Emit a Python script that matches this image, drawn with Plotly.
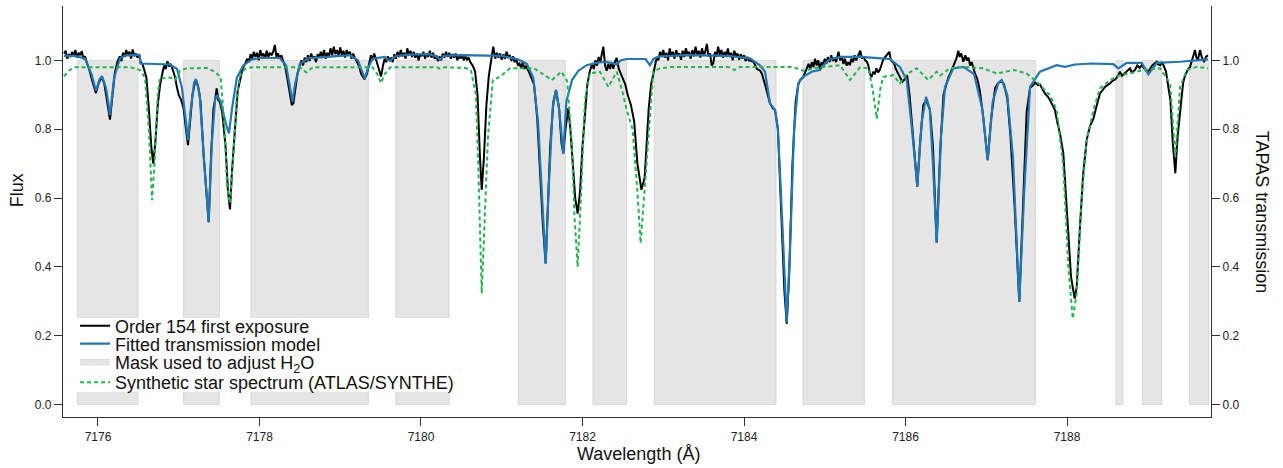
import plotly.graph_objects as go

# ---------------- data ----------------
mask_start = [7175.744, 7177.061, 7177.895, 7179.690, 7181.205, 7182.130,
              7182.889, 7184.731, 7185.841, 7188.607, 7188.933, 7189.515]
mask_end = [7176.495, 7177.502, 7179.348, 7180.347, 7181.787, 7182.547,
            7184.396, 7185.490, 7187.607, 7188.693, 7189.173, 7189.755]

obs_points = [
    (7175.58, 1.020), (7175.60, 1.028), (7175.62, 1.005), (7175.64, 1.018), (7175.66, 1.010),
    (7175.68, 1.025), (7175.70, 1.012), (7175.72, 1.030), (7175.74, 1.008), (7175.76, 1.022),
    (7175.78, 1.015), (7175.80, 1.027), (7175.82, 1.004), (7175.84, 1.012), (7175.86, 0.995),
    (7175.89, 0.975), (7175.93, 0.940), (7175.975, 0.905), (7176.01, 0.935), (7176.05, 0.952),
    (7176.08, 0.930), (7176.11, 0.880), (7176.149, 0.828), (7176.18, 0.900), (7176.21, 0.965),
    (7176.24, 0.995), (7176.27, 1.012), (7176.29, 0.998), (7176.31, 1.022), (7176.33, 1.010),
    (7176.35, 1.030), (7176.37, 1.015), (7176.39, 1.025), (7176.41, 1.005), (7176.43, 1.032),
    (7176.45, 1.012), (7176.47, 1.020), (7176.49, 1.008), (7176.51, 1.015), (7176.53, 0.995),
    (7176.55, 0.990), (7176.57, 0.975), (7176.60, 0.950), (7176.63, 0.860), (7176.66, 0.750),
    (7176.685, 0.700), (7176.71, 0.760), (7176.74, 0.870), (7176.77, 0.930), (7176.80, 0.965),
    (7176.82, 0.985), (7176.84, 0.975), (7176.86, 0.998), (7176.88, 0.982), (7176.90, 0.990),
    (7176.93, 0.970), (7176.95, 0.955), (7176.98, 0.920), (7177.00, 0.900), (7177.03, 0.885),
    (7177.06, 0.860), (7177.09, 0.800), (7177.115, 0.754), (7177.14, 0.820), (7177.17, 0.900),
    (7177.20, 0.935), (7177.214, 0.943), (7177.24, 0.925), (7177.27, 0.880), (7177.31, 0.720),
    (7177.371, 0.530), (7177.40, 0.720), (7177.43, 0.860), (7177.45, 0.885), (7177.47, 0.919),
    (7177.49, 0.885), (7177.51, 0.880), (7177.54, 0.846), (7177.58, 0.750), (7177.61, 0.620),
    (7177.635, 0.567), (7177.66, 0.680), (7177.70, 0.820), (7177.73, 0.910), (7177.76, 0.943),
    (7177.79, 0.975), (7177.82, 0.990), (7177.85, 1.005), (7177.87, 0.995), (7177.89, 1.018),
    (7177.91, 1.005), (7177.93, 1.025), (7177.95, 1.010), (7177.97, 1.022), (7177.99, 1.000),
    (7178.01, 1.030), (7178.03, 1.012), (7178.05, 1.020), (7178.07, 1.005), (7178.09, 1.028),
    (7178.11, 1.010), (7178.13, 1.022), (7178.15, 1.015), (7178.17, 1.025), (7178.19, 1.045),
    (7178.21, 1.010), (7178.23, 1.020), (7178.25, 1.005), (7178.27, 1.015), (7178.29, 1.000),
    (7178.32, 0.980), (7178.35, 0.940), (7178.38, 0.890), (7178.40, 0.870), (7178.42, 0.875),
    (7178.44, 0.910), (7178.47, 0.960), (7178.50, 0.985), (7178.52, 1.000), (7178.54, 0.985),
    (7178.56, 1.008), (7178.58, 0.995), (7178.60, 1.015), (7178.62, 0.998), (7178.64, 1.020),
    (7178.66, 1.005), (7178.68, 1.012), (7178.70, 0.995), (7178.72, 1.018), (7178.74, 1.008),
    (7178.76, 1.025), (7178.78, 1.010), (7178.80, 1.030), (7178.82, 1.005), (7178.84, 1.022),
    (7178.86, 1.012), (7178.88, 1.035), (7178.90, 1.015), (7178.92, 1.040), (7178.94, 1.018),
    (7178.96, 1.030), (7178.98, 1.012), (7179.00, 1.038), (7179.02, 1.015), (7179.04, 1.028),
    (7179.06, 1.008), (7179.08, 1.030), (7179.10, 1.018), (7179.12, 1.025), (7179.14, 1.005),
    (7179.16, 1.020), (7179.18, 1.008), (7179.20, 1.000), (7179.23, 0.985), (7179.26, 0.960),
    (7179.30, 0.945), (7179.33, 0.960), (7179.36, 0.990), (7179.38, 1.015), (7179.40, 1.000),
    (7179.42, 1.020), (7179.44, 1.005), (7179.46, 0.990), (7179.48, 0.975), (7179.505, 0.953),
    (7179.53, 0.985), (7179.55, 1.005), (7179.57, 0.995), (7179.59, 1.012), (7179.61, 1.000),
    (7179.63, 1.008), (7179.65, 0.995), (7179.67, 1.018), (7179.69, 1.005), (7179.71, 1.025),
    (7179.73, 1.010), (7179.75, 1.030), (7179.77, 1.012), (7179.79, 1.022), (7179.81, 1.005),
    (7179.83, 1.035), (7179.85, 1.015), (7179.87, 1.028), (7179.89, 1.010), (7179.91, 1.025),
    (7179.93, 1.008), (7179.95, 1.020), (7179.97, 1.000), (7179.99, 1.018), (7180.01, 1.012),
    (7180.03, 1.025), (7180.05, 1.005), (7180.07, 1.020), (7180.09, 1.010), (7180.11, 1.028),
    (7180.13, 1.008), (7180.15, 1.022), (7180.17, 1.005), (7180.19, 1.015), (7180.21, 0.998),
    (7180.23, 1.012), (7180.25, 1.000), (7180.27, 1.020), (7180.29, 1.008), (7180.31, 1.025),
    (7180.33, 1.010), (7180.35, 1.022), (7180.37, 1.005), (7180.39, 1.018), (7180.41, 1.008),
    (7180.43, 1.020), (7180.45, 1.000), (7180.47, 1.015), (7180.49, 1.005), (7180.51, 1.018),
    (7180.53, 1.000), (7180.55, 1.012), (7180.57, 1.002), (7180.59, 1.008), (7180.61, 0.995),
    (7180.64, 0.985), (7180.67, 0.968), (7180.70, 0.900), (7180.73, 0.720), (7180.752, 0.624),
    (7180.78, 0.720), (7180.81, 0.870), (7180.84, 0.955), (7180.87, 1.000), (7180.895, 1.040),
    (7180.92, 1.005), (7180.94, 1.022), (7180.96, 1.008), (7180.98, 1.020), (7181.00, 1.002),
    (7181.02, 1.018), (7181.04, 1.005), (7181.06, 1.025), (7181.08, 1.010), (7181.10, 1.015),
    (7181.12, 0.998), (7181.14, 1.012), (7181.16, 0.995), (7181.18, 1.005), (7181.20, 0.985),
    (7181.22, 0.990), (7181.24, 0.978), (7181.26, 0.995), (7181.28, 0.975), (7181.30, 0.985),
    (7181.33, 0.970), (7181.36, 0.955), (7181.40, 0.930), (7181.44, 0.830), (7181.48, 0.650),
    (7181.51, 0.520), (7181.544, 0.410), (7181.57, 0.550), (7181.60, 0.750), (7181.64, 0.880),
    (7181.672, 0.914), (7181.71, 0.860), (7181.74, 0.760), (7181.762, 0.730), (7181.79, 0.800),
    (7181.824, 0.861), (7181.85, 0.800), (7181.88, 0.700), (7181.91, 0.600), (7181.94, 0.555),
    (7181.97, 0.620), (7182.00, 0.750), (7182.03, 0.850), (7182.06, 0.930), (7182.09, 0.968),
    (7182.12, 0.990), (7182.14, 0.975), (7182.16, 1.000), (7182.18, 0.985), (7182.20, 1.010),
    (7182.22, 0.995), (7182.24, 1.025), (7182.258, 1.040), (7182.28, 0.985), (7182.30, 0.970),
    (7182.32, 0.990), (7182.34, 0.975), (7182.36, 0.995), (7182.381, 0.976), (7182.40, 0.995),
    (7182.424, 1.007), (7182.45, 0.975), (7182.48, 0.960), (7182.505, 0.945), (7182.53, 0.930),
    (7182.56, 0.900), (7182.60, 0.870), (7182.64, 0.823), (7182.68, 0.700), (7182.73, 0.624),
    (7182.77, 0.660), (7182.80, 0.780), (7182.82, 0.860), (7182.85, 0.930), (7182.88, 0.965),
    (7182.90, 0.995), (7182.92, 1.010), (7182.94, 1.000), (7182.96, 1.025), (7182.98, 1.010),
    (7183.00, 1.030), (7183.02, 1.008), (7183.04, 1.022), (7183.06, 1.000), (7183.08, 1.035),
    (7183.10, 1.012), (7183.12, 1.025), (7183.14, 1.005), (7183.16, 1.030), (7183.18, 1.015),
    (7183.20, 1.020), (7183.22, 1.002), (7183.24, 1.028), (7183.26, 1.010), (7183.28, 1.035),
    (7183.30, 1.018), (7183.32, 1.025), (7183.34, 1.005), (7183.36, 1.030), (7183.38, 1.012),
    (7183.40, 1.040), (7183.42, 1.015), (7183.44, 1.028), (7183.46, 1.008), (7183.48, 1.035),
    (7183.50, 1.015), (7183.52, 1.025), (7183.54, 1.048), (7183.56, 1.012), (7183.58, 1.020),
    (7183.60, 0.985), (7183.62, 0.992), (7183.64, 1.025), (7183.66, 1.010), (7183.68, 1.040),
    (7183.70, 1.015), (7183.72, 1.030), (7183.74, 1.008), (7183.76, 1.025), (7183.78, 1.012),
    (7183.80, 1.035), (7183.82, 1.010), (7183.84, 1.022), (7183.86, 1.000), (7183.88, 1.028),
    (7183.90, 1.012), (7183.92, 1.020), (7183.94, 1.002), (7183.96, 1.018), (7183.98, 1.005),
    (7184.00, 1.015), (7184.02, 0.998), (7184.04, 1.010), (7184.06, 1.000), (7184.08, 1.000),
    (7184.12, 0.995), (7184.16, 0.975), (7184.20, 0.970), (7184.22, 0.962), (7184.26, 0.930),
    (7184.30, 0.890), (7184.322, 0.875), (7184.36, 0.860), (7184.384, 0.856), (7184.42, 0.800),
    (7184.46, 0.580), (7184.50, 0.330), (7184.529, 0.235), (7184.56, 0.380), (7184.60, 0.700),
    (7184.64, 0.880), (7184.672, 0.930), (7184.70, 0.945), (7184.731, 0.950), (7184.76, 0.965),
    (7184.78, 0.975), (7184.80, 0.990), (7184.82, 0.975), (7184.84, 0.995), (7184.86, 0.980),
    (7184.88, 1.005), (7184.90, 0.985), (7184.92, 1.000), (7184.94, 0.975), (7184.96, 0.995),
    (7184.98, 0.985), (7185.00, 1.005), (7185.02, 0.990), (7185.04, 1.010), (7185.06, 0.995),
    (7185.08, 1.015), (7185.10, 0.998), (7185.12, 1.008), (7185.14, 0.995), (7185.17, 1.025),
    (7185.19, 1.000), (7185.21, 1.012), (7185.23, 0.990), (7185.25, 1.005), (7185.27, 0.985),
    (7185.29, 0.995), (7185.31, 0.986), (7185.33, 1.005), (7185.35, 0.995), (7185.37, 1.015),
    (7185.39, 1.000), (7185.42, 1.020), (7185.44, 1.028), (7185.46, 1.005), (7185.48, 1.012),
    (7185.50, 1.000), (7185.52, 0.997), (7185.54, 0.985), (7185.56, 0.960), (7185.58, 0.952),
    (7185.60, 0.967), (7185.62, 0.960), (7185.64, 0.977), (7185.66, 0.965), (7185.68, 0.972),
    (7185.70, 0.985), (7185.72, 1.000), (7185.75, 1.010), (7185.78, 1.020), (7185.80, 1.025),
    (7185.82, 1.000), (7185.84, 0.995), (7185.86, 0.990), (7185.88, 0.975), (7185.90, 0.965),
    (7185.93, 0.948), (7185.96, 0.938), (7185.99, 0.945), (7186.02, 0.957), (7186.05, 0.900),
    (7186.09, 0.780), (7186.146, 0.633), (7186.18, 0.760), (7186.22, 0.870), (7186.254, 0.885),
    (7186.28, 0.870), (7186.303, 0.856), (7186.34, 0.750), (7186.386, 0.471), (7186.43, 0.740),
    (7186.47, 0.900), (7186.50, 0.925), (7186.53, 0.950), (7186.56, 0.965), (7186.59, 0.980),
    (7186.61, 0.995), (7186.63, 1.005), (7186.654, 1.028), (7186.67, 1.010), (7186.69, 1.020),
    (7186.716, 0.996), (7186.74, 1.015), (7186.76, 1.000), (7186.78, 1.008), (7186.80, 0.985),
    (7186.82, 0.995), (7186.84, 0.975), (7186.86, 0.962), (7186.89, 0.945), (7186.92, 0.913),
    (7186.96, 0.840), (7187.018, 0.710), (7187.06, 0.830), (7187.11, 0.920), (7187.15, 0.935),
    (7187.191, 0.940), (7187.22, 0.930), (7187.26, 0.890), (7187.30, 0.780), (7187.35, 0.580),
    (7187.409, 0.298), (7187.45, 0.550), (7187.50, 0.850), (7187.542, 0.920), (7187.58, 0.930),
    (7187.61, 0.935), (7187.64, 0.928), (7187.665, 0.930), (7187.70, 0.915), (7187.727, 0.904),
    (7187.76, 0.895), (7187.789, 0.885), (7187.82, 0.870), (7187.85, 0.856), (7187.88, 0.820),
    (7187.913, 0.788), (7187.954, 0.730), (7187.988, 0.594), (7188.02, 0.460), (7188.05, 0.370),
    (7188.095, 0.308), (7188.12, 0.342), (7188.161, 0.520), (7188.20, 0.670), (7188.244, 0.770),
    (7188.285, 0.810), (7188.326, 0.830), (7188.359, 0.865), (7188.38, 0.880), (7188.409, 0.904),
    (7188.44, 0.915), (7188.47, 0.923), (7188.50, 0.928), (7188.533, 0.933), (7188.56, 0.940),
    (7188.60, 0.945), (7188.63, 0.955), (7188.656, 0.967), (7188.68, 0.955), (7188.71, 0.962),
    (7188.74, 0.970), (7188.78, 0.977), (7188.80, 0.965), (7188.842, 0.972), (7188.87, 0.985),
    (7188.90, 0.978), (7188.925, 0.986), (7188.95, 0.980), (7188.98, 0.970), (7189.007, 0.967),
    (7189.03, 0.975), (7189.053, 0.985), (7189.08, 0.990), (7189.111, 0.996), (7189.13, 0.988),
    (7189.152, 0.986), (7189.18, 0.995), (7189.20, 0.980), (7189.226, 0.967), (7189.25, 0.930),
    (7189.28, 0.885), (7189.31, 0.760), (7189.341, 0.672), (7189.37, 0.780), (7189.40, 0.856),
    (7189.437, 0.933), (7189.46, 0.955), (7189.483, 0.967), (7189.50, 0.975), (7189.523, 0.980),
    (7189.55, 1.000), (7189.57, 1.012), (7189.585, 1.030), (7189.60, 1.010), (7189.62, 1.000),
    (7189.647, 1.030), (7189.67, 1.008), (7189.697, 0.995), (7189.72, 1.010), (7189.746, 1.015),
]

model_points = [
    (7175.579, 1.013), (7175.715, 1.013), (7175.839, 1.005), (7175.92, 0.960), (7175.975, 0.912),
    (7176.02, 0.945), (7176.050, 0.954), (7176.10, 0.920), (7176.149, 0.842), (7176.20, 0.950),
    (7176.272, 1.005), (7176.334, 1.014), (7176.45, 1.016), (7176.515, 1.016), (7176.525, 0.991),
    (7176.70, 0.990), (7176.89, 0.988), (7176.98, 0.975), (7177.04, 0.920), (7177.09, 0.820),
    (7177.115, 0.768), (7177.15, 0.860), (7177.19, 0.935), (7177.214, 0.946), (7177.26, 0.900),
    (7177.31, 0.720), (7177.371, 0.531), (7177.41, 0.760), (7177.45, 0.885), (7177.47, 0.899),
    (7177.52, 0.880), (7177.58, 0.820), (7177.622, 0.788), (7177.66, 0.860), (7177.72, 0.950),
    (7177.80, 0.985), (7177.90, 1.002), (7178.00, 1.007), (7178.25, 1.007), (7178.33, 0.985),
    (7178.38, 0.920), (7178.409, 0.880), (7178.44, 0.930), (7178.50, 0.990), (7178.60, 1.006),
    (7178.90, 1.012), (7179.12, 1.015), (7179.22, 1.000), (7179.27, 0.965), (7179.303, 0.947),
    (7179.34, 0.975), (7179.40, 1.005), (7179.55, 1.010), (7179.616, 0.998), (7179.68, 1.012),
    (7179.85, 1.017), (7180.10, 1.018), (7180.19, 1.012), (7180.235, 1.002), (7180.28, 1.013),
    (7180.50, 1.015), (7181.00, 1.013), (7181.20, 1.003), (7181.31, 0.990), (7181.39, 0.950),
    (7181.45, 0.820), (7181.50, 0.600), (7181.544, 0.410), (7181.58, 0.620), (7181.63, 0.860),
    (7181.672, 0.914), (7181.71, 0.860), (7181.762, 0.730), (7181.80, 0.880), (7181.87, 0.943),
    (7181.95, 0.970), (7182.052, 0.986), (7182.20, 0.994), (7182.30, 0.996), (7182.37, 0.991),
    (7182.424, 0.988), (7182.47, 1.000), (7182.547, 1.004), (7182.78, 1.004), (7182.836, 0.986),
    (7182.88, 1.005), (7182.96, 1.012), (7183.30, 1.015), (7183.80, 1.013), (7184.074, 1.006),
    (7184.20, 0.985), (7184.26, 0.967), (7184.322, 0.875), (7184.384, 0.856), (7184.42, 0.800),
    (7184.47, 0.550), (7184.529, 0.240), (7184.57, 0.450), (7184.62, 0.800), (7184.672, 0.933),
    (7184.731, 0.952), (7184.85, 0.968), (7184.941, 0.972), (7185.00, 0.990), (7185.065, 1.004),
    (7185.20, 1.010), (7185.44, 1.010), (7185.70, 1.006), (7185.808, 1.004), (7185.932, 0.980),
    (7186.015, 0.943), (7186.08, 0.800), (7186.146, 0.633), (7186.20, 0.820), (7186.254, 0.894),
    (7186.30, 0.860), (7186.34, 0.700), (7186.386, 0.471), (7186.44, 0.780), (7186.489, 0.923),
    (7186.592, 0.977), (7186.716, 0.981), (7186.85, 0.960), (7186.95, 0.860), (7187.018, 0.710),
    (7187.08, 0.880), (7187.15, 0.935), (7187.191, 0.943), (7187.26, 0.900), (7187.33, 0.720),
    (7187.409, 0.298), (7187.47, 0.620), (7187.542, 0.923), (7187.665, 0.967), (7187.872, 0.986),
    (7187.975, 0.981), (7188.10, 0.988), (7188.30, 0.991), (7188.573, 0.989), (7188.635, 0.977),
    (7188.739, 0.993), (7188.925, 0.993), (7189.007, 0.960), (7189.111, 0.993), (7189.40, 0.996),
    (7189.746, 1.003),
]

synth_points = [
    (7175.579, 0.954), (7175.65, 0.972), (7175.715, 0.980), (7176.40, 0.980), (7176.52, 0.972),
    (7176.582, 0.950), (7176.63, 0.800), (7176.67, 0.594), (7176.70, 0.700), (7176.74, 0.900),
    (7176.768, 0.950), (7176.83, 0.948), (7176.90, 0.950), (7176.954, 0.943), (7177.015, 0.970),
    (7177.10, 0.977), (7177.35, 0.978), (7177.45, 0.967), (7177.52, 0.950), (7177.57, 0.800),
    (7177.60, 0.630), (7177.635, 0.585), (7177.67, 0.700), (7177.72, 0.900), (7177.759, 0.955),
    (7177.82, 0.975), (7177.90, 0.980), (7178.50, 0.980), (7178.58, 0.965), (7178.66, 0.980),
    (7179.40, 0.980), (7179.46, 0.960), (7179.505, 0.934), (7179.55, 0.960), (7179.62, 0.980),
    (7180.20, 0.980), (7180.235, 0.976), (7180.30, 0.980), (7180.55, 0.978), (7180.62, 0.970),
    (7180.68, 0.900), (7180.71, 0.690), (7180.752, 0.323), (7180.79, 0.550), (7180.83, 0.780),
    (7180.89, 0.943), (7180.978, 0.952), (7181.102, 0.977), (7181.40, 0.977), (7181.62, 0.943),
    (7181.74, 0.967), (7181.81, 0.940), (7181.87, 0.750), (7181.90, 0.550), (7181.94, 0.400),
    (7181.98, 0.600), (7182.03, 0.885), (7182.093, 0.962), (7182.217, 0.967), (7182.32, 0.923),
    (7182.424, 0.967), (7182.505, 0.900), (7182.547, 0.856), (7182.62, 0.800), (7182.68, 0.620),
    (7182.72, 0.469), (7182.77, 0.620), (7182.836, 0.836), (7182.877, 0.967), (7182.96, 0.977),
    (7183.10, 0.981), (7183.80, 0.981), (7183.88, 0.972), (7183.95, 0.981), (7184.60, 0.981),
    (7184.731, 0.970), (7184.941, 0.980), (7185.189, 0.986), (7185.25, 0.965), (7185.313, 0.943),
    (7185.437, 0.980), (7185.540, 0.977), (7185.59, 0.920), (7185.644, 0.831), (7185.69, 0.920),
    (7185.725, 0.952), (7185.85, 0.957), (7185.932, 0.933), (7186.015, 0.960), (7186.14, 0.977),
    (7186.28, 0.943), (7186.386, 0.967), (7186.43, 0.956), (7186.55, 0.977), (7186.716, 0.981),
    (7186.96, 0.977), (7187.129, 0.962), (7187.344, 0.972), (7187.50, 0.962), (7187.624, 0.938),
    (7187.789, 0.899), (7187.872, 0.856), (7187.954, 0.691), (7188.016, 0.400), (7188.071, 0.250),
    (7188.12, 0.323), (7188.181, 0.600), (7188.244, 0.768), (7188.326, 0.856), (7188.409, 0.919),
    (7188.533, 0.943), (7188.656, 0.957), (7188.78, 0.962), (7188.942, 0.972), (7189.152, 0.977),
    (7189.276, 0.933), (7189.341, 0.720), (7189.40, 0.923), (7189.483, 0.972), (7189.60, 0.981),
    (7189.746, 0.977),
]

x_ticks = [7176, 7178, 7180, 7182, 7184, 7186, 7188]
y_ticks = [0.0, 0.2, 0.4, 0.6, 0.8, 1.0]
x_range = [7175.567, 7189.783]
y_range = [-0.036, 1.158]

# ---------------- figure ----------------
FONT = "Liberation Sans, Arial, Helvetica, sans-serif"
TXT = "#111111"

mask_x, mask_y = [], []
for s, e in zip(mask_start, mask_end):
    mask_x += [s, s, e, e, s, None]
    mask_y += [0, 1, 1, 0, 0, None]

fig = go.Figure()
fig.add_trace(go.Scatter(
    x=mask_x, y=mask_y, mode="lines", fill="toself",
    fillcolor="#e5e5e5", line=dict(color="#d6d6d6", width=1),
    name="Mask used to adjust H<sub>2</sub>O", legend="legend3", hoverinfo="skip",
    xaxis="x", yaxis="y"))
fig.add_trace(go.Scatter(
    x=[p[0] for p in obs_points], y=[p[1] for p in obs_points], mode="lines",
    line=dict(color="#000000", width=2), name="Order 154 first exposure",
    legend="legend", xaxis="x", yaxis="y2"))
fig.add_trace(go.Scatter(
    x=[p[0] for p in model_points], y=[p[1] for p in model_points], mode="lines",
    line=dict(color="#1f77b4", width=2.2), name="Fitted transmission model",
    legend="legend2", xaxis="x", yaxis="y2"))
fig.add_trace(go.Scatter(
    x=[p[0] for p in synth_points], y=[p[1] for p in synth_points], mode="lines",
    line=dict(color="#25b550", width=2, dash="4px,3px"),
    name="Synthetic star spectrum (ATLAS/SYNTHE)",
    legend="legend4", xaxis="x", yaxis="y2"))

axis_common = dict(showgrid=False, zeroline=False, showline=True, linecolor="#333333",
                   linewidth=1.3, ticks="outside", ticklen=8, tickwidth=1.2,
                   tickcolor="#333333", tickfont=dict(family=FONT, size=12, color="#222222"))


def legend_box(yc):
    return dict(x=0.0105, y=yc, xanchor="left", yanchor="middle",
                bgcolor="rgba(0,0,0,0)", borderwidth=0,
                font=dict(family=FONT, size=18, color=TXT),
                itemwidth=30, tracegroupgap=0)


# plot area in pixels: x 63..1211, y 6..417 -> legend background in paper units
def px_x(px):
    return (px - 63) / 1148.0


def px_y(py):
    return (417 - py) / 411.0


fig.update_layout(
    width=1283, height=468,
    margin=dict(l=63, r=72, t=6, b=51),
    paper_bgcolor="white", plot_bgcolor="white",
    font=dict(family=FONT, color=TXT),
    xaxis=dict(range=x_range, tickvals=x_ticks, ticktext=[str(v) for v in x_ticks],
               **axis_common),
    yaxis=dict(range=y_range, tickvals=y_ticks, ticktext=[f"{v:.1f}" for v in y_ticks],
               **axis_common),
    yaxis2=dict(range=y_range, tickvals=y_ticks, ticktext=[f"{v:.1f}" for v in y_ticks],
                overlaying="y", side="right", **axis_common),
    showlegend=True,
    legend=legend_box(px_y(326.0)),
    legend2=legend_box(px_y(344.0)),
    legend3=legend_box(px_y(362.0)),
    legend4=legend_box(px_y(382.5)),
    shapes=[dict(type="rect", xref="paper", yref="paper", layer="above",
                 x0=px_x(75), x1=px_x(456), y0=px_y(392), y1=px_y(318),
                 fillcolor="white", line=dict(width=0))],
    annotations=[
        dict(text="Flux", x=-0.040, y=0.552, xref="paper", yref="paper", showarrow=False,
             xanchor="center", yanchor="middle", textangle=-90,
             font=dict(family=FONT, size=18, color=TXT)),
        dict(text="TAPAS transmission", x=1.045, y=0.5, xref="paper", yref="paper",
             xanchor="center", yanchor="middle", showarrow=False, textangle=90,
             font=dict(family=FONT, size=18, color=TXT)),
        dict(text="Wavelength (Å)", x=0.501, y=-0.09, xref="paper", yref="paper",
             xanchor="center", yanchor="middle", showarrow=False,
             font=dict(family=FONT, size=18, color=TXT)),
    ],
)

fig.write_html("out.html", config={"displayModeBar": False},
               post_script="document.body.style.margin='0px';document.body.style.overflow='hidden';")
